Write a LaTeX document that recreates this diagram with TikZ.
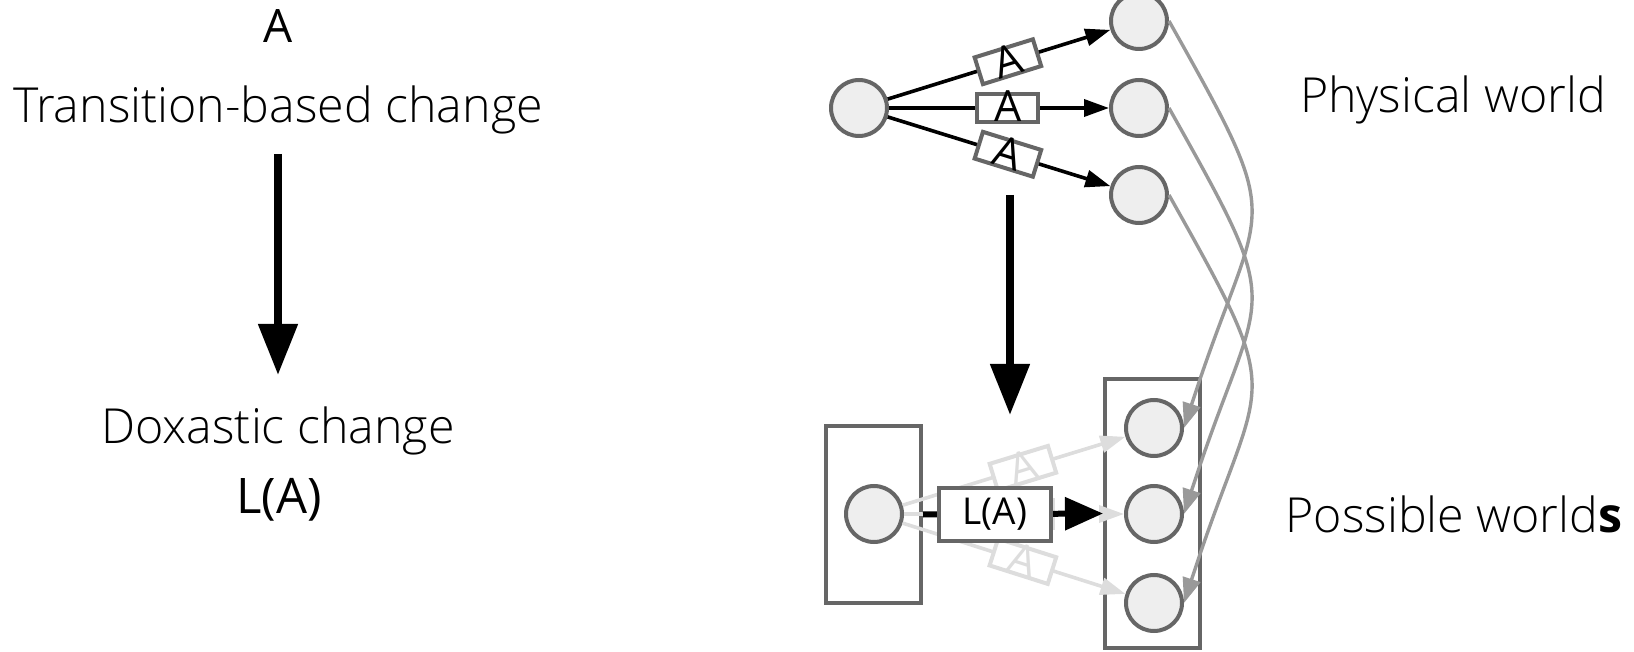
\documentclass[tikz,border=0pt]{standalone}
\usepackage{fontspec}
\setmainfont{Open Sans}
\newfontfamily\lightfont{Open Sans Light}[BoldFont={Open Sans Bold}]
\usetikzlibrary{arrows.meta}
\definecolor{cfill}{HTML}{EEEEEE}
\definecolor{cline}{HTML}{666666}
\definecolor{cgray}{HTML}{999999}
\definecolor{clight}{HTML}{DDDDDD}
\begin{document}
\begin{tikzpicture}[x=1pt,y=-1pt,
  world/.style={circle, draw=cline, fill=cfill, line width=4pt, minimum size=56pt, inner sep=0pt},
  frame/.style={draw=cline, line width=4pt, minimum width=95pt, inner sep=0pt},
  lbl/.style={draw=cline, fill=white, line width=4pt, minimum width=61pt, minimum height=28pt, inner sep=0pt, text height=28pt, text depth=0pt, font=\fontsize{43}{43}\selectfont, sloped},
  llbl/.style={lbl, draw=clight, text=clight},
  labox/.style={draw=cline, fill=white, line width=4pt, minimum width=112pt, minimum height=53pt, inner sep=0pt, font=\fontsize{37}{37}\selectfont},
  edge/.style={line width=3.6pt, -{Triangle[length=25pt,width=17pt]}},
  ledge/.style={line width=3.6pt, clight, -{Triangle[length=25pt,width=17pt]}},
  curve/.style={line width=3.4pt, cgray, -{Triangle[length=25pt,width=18pt]}},
  bigarrow/.style={line width=8pt, -{Triangle[length=51pt,width=38pt]}},
  big/.style={font=\lightfont\fontsize{48.3}{48.3}\selectfont, anchor=base, inner sep=0pt},
  reg/.style={font=\fontsize{46}{46}\selectfont, anchor=base, inner sep=0pt}
]
\useasboundingbox (0,0) rectangle (1634,652);

% left column
\node[reg] (ta) at (278,43) {A};
\node[big] (tb) at (278,123) {Transition-based change};
\coordinate (a1) at (278,154);
\coordinate (a2) at (278,375);
\draw[bigarrow] (a1) -- (a2);
\node[big] (dc) at (278,443) {Doxastic change};
\node[reg, font=\fontsize{49}{49}\selectfont] (la) at (279,513) {L(A)};

% physical world
\node[world] (s0) at (859,108) {};
\node[world] (t1) at (1139,21) {};
\node[world] (t2) at (1139,108) {};
\node[world] (t3) at (1139,195) {};
\draw[edge] (s0) -- node[lbl, pos=0.54] {A} (t1);
\draw[edge] (s0) -- node[lbl, pos=0.54] {A} (t2);
\draw[edge] (s0) -- node[lbl, pos=0.54] {A} (t3);

\coordinate (b1) at (1010,195);
\coordinate (b2) at (1010,415);
\draw[bigarrow] (b1) -- (b2);

% possible worlds
\node[frame, minimum height=177pt] (lb) at (873.5,514.5) {};
\node[frame, minimum height=269pt] (rb) at (1152.5,513.5) {};
\node[world] (s1) at (874,514) {};
\node[world] (p1) at (1154,428) {};
\node[world] (p2) at (1154,514) {};
\node[world] (p3) at (1154,603) {};
\draw[ledge] (s1) -- node[llbl, pos=0.54] {A} (p1);
\draw[ledge] (s1) -- node[llbl, pos=0.54] {A} (p2);
\draw[ledge] (s1) -- node[llbl, pos=0.54] {A} (p3);
\draw[line width=6pt, -{Triangle[length=38pt,width=32pt]}] (lb.east) -- node[labox, pos=0.4] {L(A)} (rb.west);

\draw[curve] (t1.east) .. controls +(122,217) and +(77,-238) .. (p1.east);
\draw[curve] (t2.east) .. controls +(122,217) and +(77,-238) .. (p2.east);
\draw[curve] (t3.east) .. controls +(122,217) and +(77,-238) .. (p3.east);

\node[big] (pw) at (1453,113) {Physical world};
\node[big] (pos) at (1454,532) {Possible world\textbf{s}};
\end{tikzpicture}
\end{document}
